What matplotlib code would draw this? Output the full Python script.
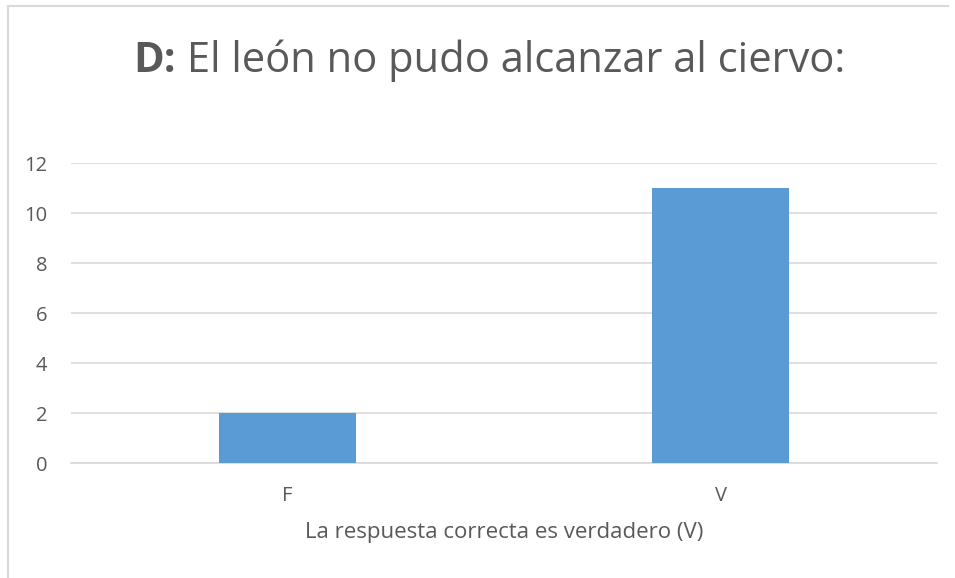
import matplotlib.pyplot as plt
from matplotlib.lines import Line2D

plt.rcParams['font.family'] = ['Open Sans', 'DejaVu Sans']

categories = ["F", "V"]
values = [2, 11]
yticks = [0, 2, 4, 6, 8, 10, 12]
title_bold = "D:"
title_rest = " El león no pudo alcanzar al ciervo:"
xlabel = "La respuesta correcta es verdadero (V)"

W, H = 955, 578
fig = plt.figure(figsize=(W / 100, H / 100), dpi=100)
ax = fig.add_axes([71 / W, 1 - 463.3 / H, (937 - 71) / W, (463.3 - 163.3) / H])

txt = "#595959"
ax.bar(range(len(categories)), values, width=0.315, color="#5B9BD5", zorder=3)
ax.set_xlim(-0.5, len(categories) - 0.5)
ax.set_ylim(0, 12)
ax.set_yticks(yticks)
ax.set_xticks(range(len(categories)))
ax.set_xticklabels(categories)
ax.grid(axis="y", color="#D9D9D9", linewidth=1.2, zorder=0)
for s in ["top", "right", "left"]:
    ax.spines[s].set_visible(False)
ax.spines["bottom"].set_color("#D9D9D9")
ax.spines["bottom"].set_linewidth(1.2)
ax.tick_params(axis="both", length=0, labelsize=14.5, colors=txt)
ax.tick_params(axis="y", pad=17)
ax.tick_params(axis="x", pad=16)
ax.set_xlabel(xlabel, fontsize=16, color=txt, labelpad=12)

# title with bold prefix
fig.canvas.draw()
r = fig.canvas.get_renderer()
t1 = fig.text(0, 0, title_bold, fontsize=30, fontweight="bold", color=txt)
t2 = fig.text(0, 0, title_rest, fontsize=30, color=txt)
w1 = t1.get_window_extent(r).width
w2 = t2.get_window_extent(r).width
x0 = (489 - (w1 + w2) / 2)
yb = 1 - 72 / H
t1.set_position((x0 / W, yb))
t2.set_position(((x0 + w1) / W, yb))

# outer chart border (left and top visible)
fig.add_artist(Line2D([7.5 / W, 7.5 / W], [0, 1 - 5.5 / H], color="#D9D9D9", lw=1.5))
fig.add_artist(Line2D([7.5 / W, 948 / W], [1 - 5.5 / H, 1 - 5.5 / H], color="#D9D9D9", lw=1.5))

fig.savefig("out.png", dpi=100)
